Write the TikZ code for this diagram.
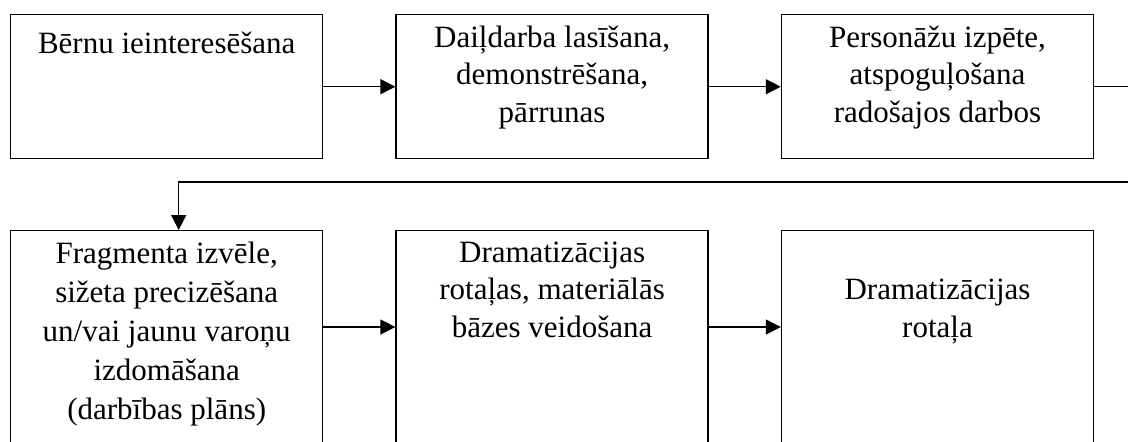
\documentclass[tikz,border=0pt]{standalone}
\usepackage{fontspec}
\setmainfont{Liberation Serif}
\usetikzlibrary{positioning,arrows.meta}

\begin{document}
\begin{tikzpicture}[x=0.5pt,y=-0.5pt,
          stepbox/.style={draw, line width=0.7pt, minimum width=156pt,
          minimum height=72pt, inner sep=0pt},
          tallbox/.style={stepbox, minimum height=120pt},
          boxtext/.style={font=\fontsize{15.5}{18.75}\selectfont, align=center,
          inner sep=0pt, execute at begin node=\rule{0pt}{14pt}},
          flow/.style={line width=0.7pt, -{Triangle[length=7.5pt,width=7.5pt]}}]
          \clip (0,0) rectangle (1128,441);
          \node[stepbox, anchor=north west] (b1) at (10,14) {};
          \node[stepbox, right=36pt of b1] (b2) {};
          \node[stepbox, right=36pt of b2] (b3) {};
          \node[tallbox, anchor=north west] (b4) at (10,230) {};
          \node[tallbox, right=36pt of b4] (b5) {};
          \node[tallbox, right=36pt of b5] (b6) {};
          \node[boxtext, below=5.75pt of b1.north] (t1) {Bērnu ieinteresēšana};
          \node[boxtext, below=5.75pt of b2.north] (t2) {Daiļdarba lasīšana,\\demonstrēšana,\\pārrunas};
          \node[boxtext, below=5.75pt of b3.north] (t3) {Personāžu izpēte,\\atspoguļošana\\radošajos darbos};
          \node[boxtext, font=\fontsize{15.5}{19.5}\selectfont, below=5.75pt of b4.north] (t4) {Fragmenta izvēle,\\sižeta precizēšana\\un/vai jaunu varoņu\\izdomāšana\\(darbības plāns)};
          \node[boxtext, below=5.75pt of b5.north] (t5) {Dramatizācijas\\rotaļas, materiālās\\bāzes veidošana};
          \node[boxtext, below=24.5pt of b6.north] (t6) {Dramatizācijas\\rotaļa};
          \coordinate (turn) at (1150,182);
          \draw[flow] (b1.east) -- (b2.west);
          \draw[flow] (b2.east) -- (b3.west);
          \draw[flow] (b3.east) -| (turn) -| ([xshift=6pt]b4.north);
          \draw[flow] ([yshift=-48.5pt]b4.north east) -- ([yshift=-48.5pt]b5.north west);
          \draw[flow] ([yshift=-48.5pt]b5.north east) -- ([yshift=-48.5pt]b6.north west);
\end{tikzpicture}
\end{document}
